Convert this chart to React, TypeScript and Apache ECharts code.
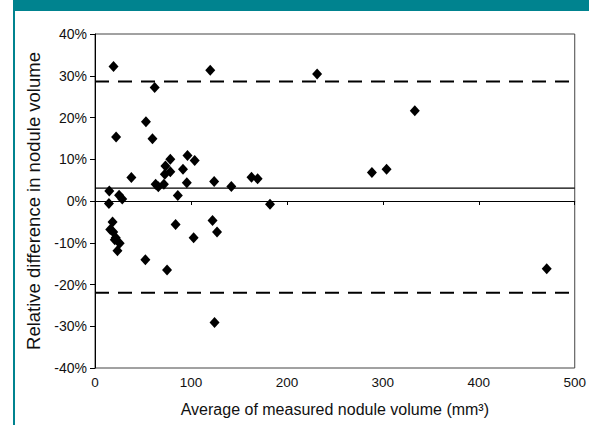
import React, { useEffect, useRef } from "react";
import * as echarts from "echarts";

const avgVolume: number[] = [
  19.3, 120.1, 62.2, 53.1, 22.0, 59.9, 78.5, 96.4, 103.9, 73.4, 91.7, 78.5, 72.8, 37.9, 95.7, 124.2,
  142.1, 163.1, 169.5, 63.2, 66.0, 71.8, 14.9, 25.1, 28.4, 86.3, 14.5, 18.3, 15.9, 19.0, 21.6, 20.6,
  25.7, 23.4, 84.0, 102.8, 122.5, 127.2, 52.5, 75.1, 124.6, 182.4, 231.5, 288.6, 303.9, 333.3, 470.8,
];
const relDiff: number[] = [
  32.2, 31.3, 27.2, 19.0, 15.3, 14.9, 10.0, 10.9, 9.7, 8.4, 7.6, 7.0, 6.4, 5.6, 4.4, 4.7,
  3.5, 5.7, 5.3, 4.0, 3.4, 4.0, 2.4, 1.4, 0.5, 1.3, -0.6, -5.0, -6.8, -7.4, -8.8, -9.3,
  -10.1, -11.9, -5.6, -8.8, -4.7, -7.4, -14.1, -16.5, -29.1, -0.8, 30.4, 6.8, 7.6, 21.6, -16.2,
];
const meanDiff = 3.1;
const upperLimit = 28.6;
const lowerLimit = -22.0;
const xRange = [0, 500];
const yRange = [-40, 40];

const TEAL = "#00838f";
const FONT = "Liberation Sans, Arial, sans-serif";

export default function App() {
  const ref = useRef<HTMLDivElement>(null);
  useEffect(() => {
    if (!ref.current) return;
    const chart = echarts.init(ref.current, undefined, { renderer: "svg" });
    const points = avgVolume.map((x, i) => [x, relDiff[i]]);
    const hline = (v: number) => [
      [xRange[0], v],
      [xRange[1], v],
    ];
    chart.setOption({
      animation: false,
      backgroundColor: "#ffffff",
      textStyle: { fontFamily: FONT },
      graphic: [
        { type: "rect", shape: { x: 13, y: 0, width: 576, height: 11 }, style: { fill: TEAL }, silent: true },
        { type: "rect", shape: { x: 13, y: 11, width: 2, height: 414 }, style: { fill: TEAL }, silent: true },
      ],
      grid: {
        left: 95,
        top: 34,
        right: 2,
        bottom: 57,
        show: true,
        borderColor: "#444",
        borderWidth: 1,
        containLabel: false,
      },
      xAxis: {
        type: "value",
        min: xRange[0],
        max: xRange[1],
        interval: 100,
        name: "Average of measured nodule volume (mm³)",
        nameLocation: "middle",
        nameGap: 33,
        nameTextStyle: { fontSize: 16, color: "#111", fontFamily: FONT },
        axisLine: { show: true, lineStyle: { color: "#000", width: 1 } },
        axisTick: { show: true, length: 4, lineStyle: { color: "#000" } },
        axisLabel: { fontSize: 13.5, color: "#111", margin: 7, fontFamily: FONT },
        splitLine: { show: false },
      },
      yAxis: {
        type: "value",
        min: yRange[0],
        max: yRange[1],
        interval: 10,
        name: "Relative difference in nodule volume",
        nameLocation: "middle",
        nameGap: 49,
        nameTextStyle: { fontSize: 18.5, color: "#111", fontFamily: FONT },
        axisLine: { show: true, lineStyle: { color: "#000", width: 1 } },
        axisTick: { show: true, length: 5, lineStyle: { color: "#000" } },
        axisLabel: { fontSize: 14, color: "#111", margin: 8, formatter: "{value}%", fontFamily: FONT },
        splitLine: { show: false },
      },
      series: [
        {
          type: "line",
          data: hline(meanDiff),
          symbol: "none",
          lineStyle: { color: "#000", width: 1.3 },
          silent: true,
        },
        {
          type: "line",
          data: hline(upperLimit),
          symbol: "none",
          lineStyle: { color: "#000", width: 2, type: [14, 9] },
          silent: true,
        },
        {
          type: "line",
          data: hline(lowerLimit),
          symbol: "none",
          lineStyle: { color: "#000", width: 2, type: [14, 9] },
          silent: true,
        },
        {
          type: "scatter",
          data: points,
          symbol: "diamond",
          symbolSize: [10, 11],
          itemStyle: { color: "#000", opacity: 1 },
        },
      ],
    });
    return () => chart.dispose();
  }, []);
  return (
    <div
      ref={ref}
      style={{ position: "fixed", left: 0, top: 0, width: 589, height: 425, background: "#fff" }}
    />
  );
}
